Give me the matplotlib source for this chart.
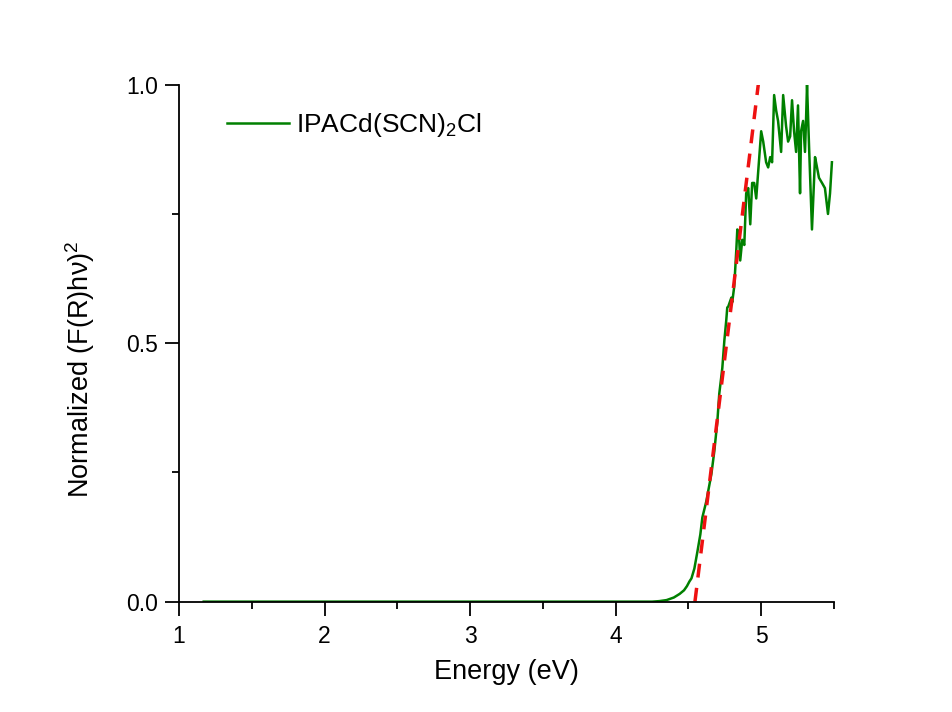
import numpy as np
import matplotlib
matplotlib.use("Agg")
import matplotlib.pyplot as plt
from matplotlib.ticker import MultipleLocator, FormatStrFormatter

plt.rcParams['font.family'] = ['Liberation Sans', 'DejaVu Sans']
plt.rcParams['mathtext.fontset'] = 'custom'
plt.rcParams['mathtext.rm'] = 'Liberation Sans'
plt.rcParams['mathtext.it'] = 'Liberation Sans:italic'

# green curve: energy (eV) and normalized (F(R)hv)^2
energy = [1.17, 2.0, 3.0, 4.0, 4.2, 4.25, 4.30, 4.35, 4.40, 4.44, 4.47, 4.49,
          4.507, 4.521, 4.541,
          4.562, 4.582, 4.596, 4.623, 4.658, 4.678, 4.699, 4.712, 4.733, 4.747,
          4.760, 4.767, 4.774, 4.795, 4.801, 4.815, 4.829, 4.836, 4.849, 4.856,
          4.870, 4.884, 4.897, 4.911, 4.925, 4.938, 4.952, 4.966, 4.979, 5.000,
          5.014, 5.034, 5.048, 5.062, 5.075, 5.089, 5.103, 5.116, 5.137, 5.151,
          5.171, 5.185, 5.199, 5.212, 5.226, 5.240, 5.253, 5.267, 5.274, 5.288,
          5.301, 5.308, 5.315, 5.329, 5.349, 5.370, 5.377, 5.397, 5.418, 5.438,
          5.459, 5.473, 5.486]
signal = [0.0, 0.0, 0.0, 0.0, 0.0, 0.0, 0.001, 0.003, 0.008, 0.015, 0.022, 0.030,
          0.039, 0.045, 0.064,
          0.097, 0.130, 0.163, 0.194, 0.247, 0.291, 0.349, 0.402, 0.452, 0.505,
          0.544, 0.569, 0.571, 0.588, 0.579, 0.610, 0.68, 0.72, 0.70, 0.66,
          0.70, 0.69, 0.79, 0.80, 0.73, 0.81, 0.81, 0.78, 0.83, 0.91,
          0.89, 0.85, 0.84, 0.86, 0.85, 0.98, 0.95, 0.93, 0.87, 0.98,
          0.92, 0.89, 0.90, 0.97, 0.91, 0.87, 0.96, 0.79, 0.91, 0.93,
          0.87, 0.93, 1.00, 0.88, 0.72, 0.86, 0.85, 0.82, 0.81, 0.80,
          0.75, 0.79, 0.85]

# linear fit (red dashed)
fit_x = [4.545, 4.98]
fit_y = [0.0, 1.0]

fig = plt.figure(figsize=(9.52, 7.12), dpi=100)
ax = fig.add_axes([0.188, 0.155, 0.688, 0.726])

ax.plot(energy, signal, color='#008000', lw=1.8, label='IPACd(SCN)$_2$Cl')
ax.plot(fit_x, fit_y, color='#ee1111', lw=2.5, ls=(0, (4, 3)))

ax.set_xlim(1, 5.5)
ax.set_ylim(0, 1.0)
ax.xaxis.set_major_locator(MultipleLocator(1))
ax.xaxis.set_minor_locator(MultipleLocator(0.5))
ax.yaxis.set_major_locator(MultipleLocator(0.5))
ax.yaxis.set_minor_locator(MultipleLocator(0.25))
ax.yaxis.set_major_formatter(FormatStrFormatter('%.1f'))

ax.spines['top'].set_visible(False)
ax.spines['right'].set_visible(False)
for s in ['left', 'bottom']:
    ax.spines[s].set_linewidth(1.3)
ax.tick_params(which='major', direction='out', length=10, width=1.3, labelsize=16.5, pad=7)
ax.tick_params(axis='y', which='major', pad=5)
ax.tick_params(which='minor', direction='out', length=5, width=1.3)

ax.set_xlabel('Energy (eV)', fontsize=19.5, labelpad=8)
ax.set_ylabel('Normalized (F(R)hν)$^2$', fontsize=19.5)
ax.yaxis.set_label_coords(-0.125, 0.45)

ax.legend(loc='upper left', frameon=False, fontsize=19, handlelength=2.35,
          handletextpad=0.28, bbox_to_anchor=(0.037, 0.995))

fig.savefig('out.png', dpi=100, facecolor='white')
